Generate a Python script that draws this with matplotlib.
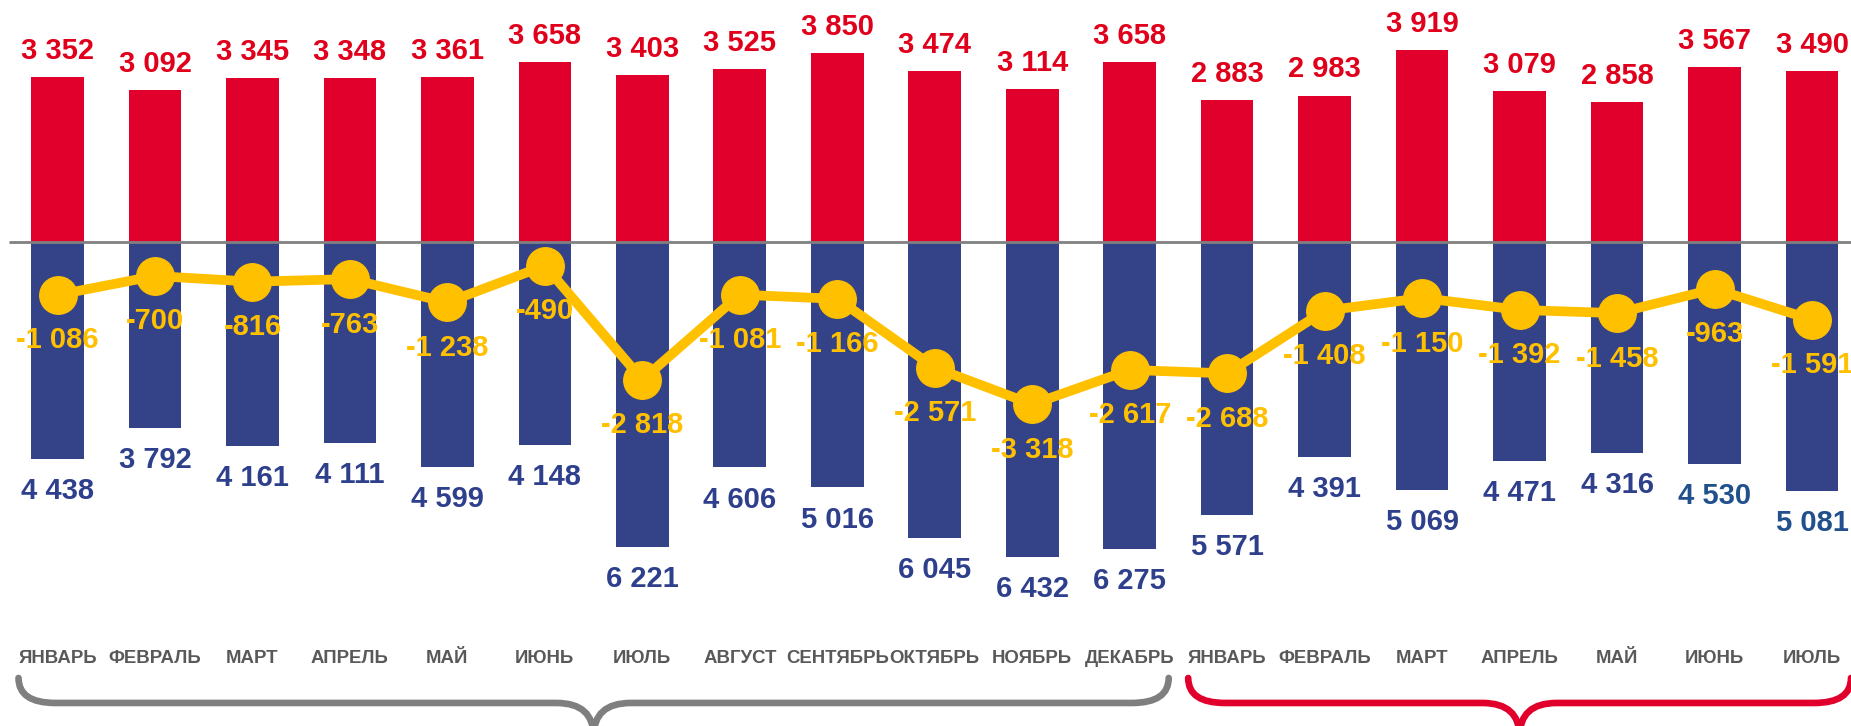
import matplotlib
matplotlib.use('Agg')
import matplotlib.pyplot as plt
import numpy as np
from matplotlib.path import Path
from matplotlib.patches import PathPatch

plt.rcParams['font.family'] = ['Liberation Sans', 'DejaVu Sans']

months = ['ЯНВАРЬ', 'ФЕВРАЛЬ', 'МАРТ', 'АПРЕЛЬ', 'МАЙ', 'ИЮНЬ', 'ИЮЛЬ', 'АВГУСТ',
          'СЕНТЯБРЬ', 'ОКТЯБРЬ', 'НОЯБРЬ', 'ДЕКАБРЬ',
          'ЯНВАРЬ', 'ФЕВРАЛЬ', 'МАРТ', 'АПРЕЛЬ', 'МАЙ', 'ИЮНЬ', 'ИЮЛЬ']
export = [3352, 3092, 3345, 3348, 3361, 3658, 3403, 3525, 3850, 3474, 3114, 3658,
          2883, 2983, 3919, 3079, 2858, 3567, 3490]
imports = [4438, 3792, 4161, 4111, 4599, 4148, 6221, 4606, 5016, 6045, 6432, 6275,
           5571, 4391, 5069, 4471, 4316, 4530, 5081]
balance = [-1086, -700, -816, -763, -1238, -490, -2818, -1081, -1166, -2571, -3318, -2617,
           -2688, -1408, -1150, -1392, -1458, -963, -1591]

RED = '#E0002B'
BLUE = '#344388'
YEL = '#FFC000'
GREY = '#7F7F7F'


def fmt(v):
    return '{:,}'.format(v).replace(',', ' ')


fig = plt.figure(figsize=(18.51, 7.26), dpi=100)
ax = fig.add_axes([0, 0, 1, 1])
ax.set_xlim(-0.59, 18.40)
ax.set_ylim(-9884, 4933)
ax.axis('off')

x = np.arange(len(months))
ax.bar(x, export, width=0.54, color=RED, zorder=2)
ax.bar(x, [-v for v in imports], width=0.54, color=BLUE, zorder=2)
ax.plot([-0.5, 18.6], [0, 0], color='#808080', lw=2, zorder=3, solid_capstyle='butt')
ax.plot(x, balance, color=YEL, lw=7, marker='o', ms=27, zorder=4)

for i in range(len(months)):
    # last two import labels are a slightly different blue in the original
    imp_col = '#21508C' if i >= 17 else '#2E3F8C'
    ax.annotate(fmt(export[i]), (x[i], export[i]), xytext=(0, 13), textcoords='offset points',
                ha='center', va='baseline', fontsize=21, fontweight='bold', color='#E0001B', zorder=5)
    ax.annotate(fmt(imports[i]), (x[i], -imports[i]), xytext=(0, -29), textcoords='offset points',
                ha='center', va='baseline', fontsize=21, fontweight='bold', color=imp_col, zorder=5)
    ax.annotate(fmt(balance[i]), (x[i], balance[i]), xytext=(0, -38.5), textcoords='offset points',
                ha='center', va='baseline', fontsize=21, fontweight='bold', color=YEL, zorder=6)
    ax.text(x[i], 0.0864, months[i], transform=ax.get_xaxis_transform(), ha='center',
            va='baseline', fontsize=13.4, fontweight='bold', color='#595959')


def brace(x0, x1, color):
    xc = (x0 + x1) / 2
    ytop, ymid, ytip = -8904, -9414, -10100
    rx = 0.38
    verts = [(x0, ytop), (x0, ymid), (x0 + rx, ymid), (xc - rx, ymid), (xc, ymid), (xc, ytip),
             (xc, ymid), (xc + rx, ymid), (x1 - rx, ymid), (x1, ymid), (x1, ytop)]
    codes = [Path.MOVETO, Path.CURVE3, Path.CURVE3, Path.LINETO, Path.CURVE3, Path.CURVE3,
             Path.CURVE3, Path.CURVE3, Path.LINETO, Path.CURVE3, Path.CURVE3]
    ax.add_patch(PathPatch(Path(verts, codes), facecolor='none', edgecolor=color, lw=4.8,
                           capstyle='round', joinstyle='round'))


brace(-0.40, 11.40, GREY)
brace(11.60, 18.40, RED)

fig.savefig('out.png', dpi=100)
